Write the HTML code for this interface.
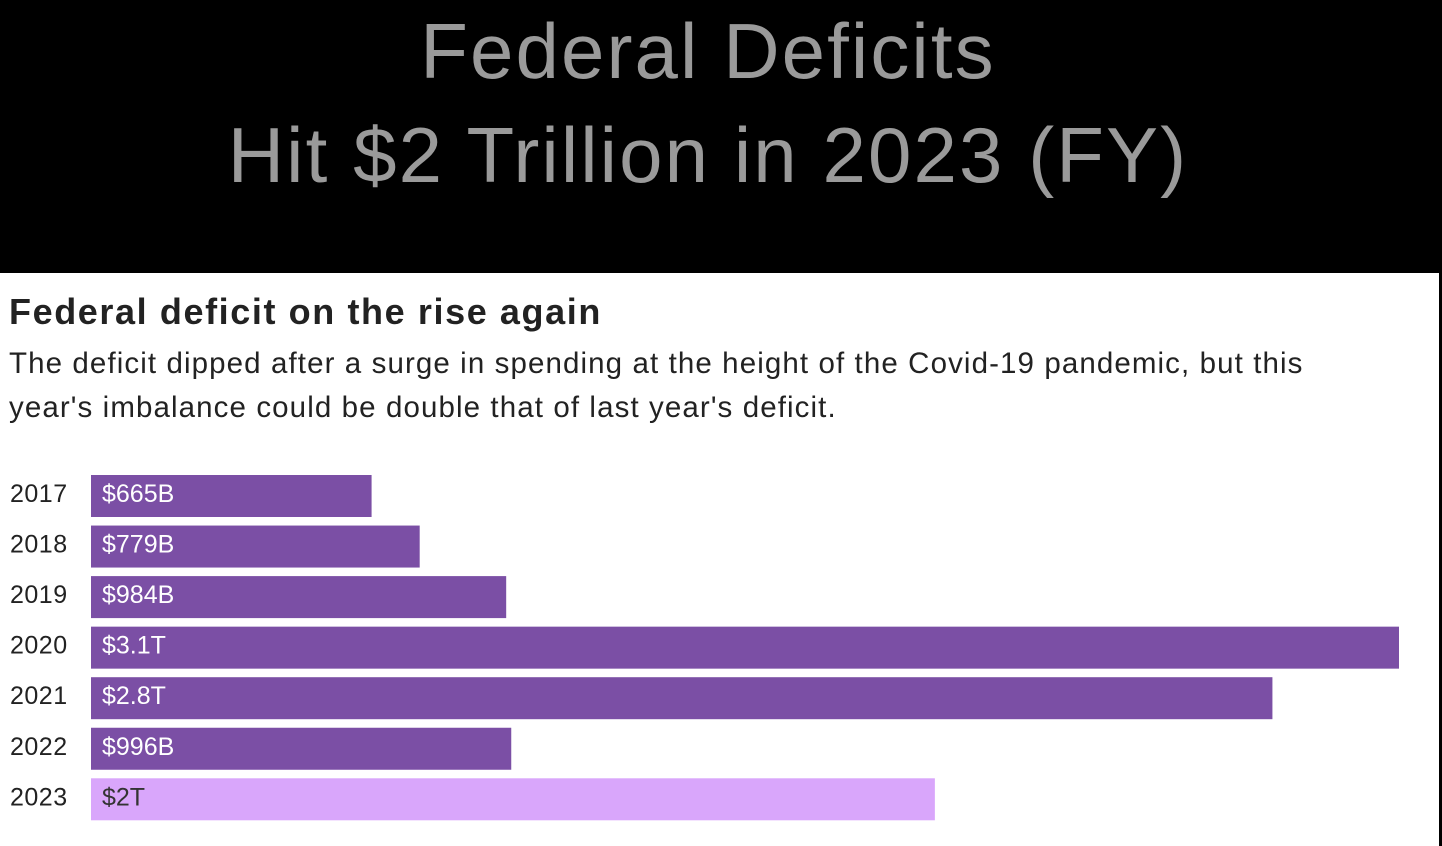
<!DOCTYPE html>
<html><head><meta charset="utf-8">
<style>
body{margin:0;width:1442px;height:846px;background:#000;position:relative;overflow:hidden;font-family:"Liberation Sans",sans-serif}
#hdr{position:absolute;left:0;top:0;width:1442px;height:273px;background:#000}
.t{position:absolute;left:0;width:1416px;text-align:center;color:#9a9a9a;font-size:78px;letter-spacing:2.1px;white-space:nowrap}
#panel{position:absolute;left:0;top:273px;width:1439px;height:573px;background:#fff}
#sub{position:absolute;left:9px;top:291px;font-size:36px;font-weight:bold;color:#222;letter-spacing:1.6px;white-space:nowrap}
#desc{position:absolute;left:9px;top:342px;width:1400px;font-size:29.5px;line-height:44px;color:#222;letter-spacing:1.1px;white-space:nowrap}
svg{position:absolute;left:0;top:0}
</style></head><body>
<div id="hdr">
<div class="t" style="top:6px">Federal Deficits</div>
<div class="t" style="top:110px">Hit $2 Trillion in 2023 (FY)</div>
</div>
<div id="panel"></div>
<div id="sub">Federal deficit on the rise again</div>
<div id="desc">The deficit dipped after a surge in spending at the height of the Covid-19 pandemic, but this<br>year's imbalance could be double that of last year's deficit.</div>
<svg id="chart" width="1442" height="846"></svg>
<script>
const years=["2017","2018","2019","2020","2021","2022","2023"];
const values=[0.665,0.779,0.984,3.1,2.8,0.996,2.0];
const labels=["$665B","$779B","$984B","$3.1T","$2.8T","$996B","$2T"];
const projected=[false,false,false,false,false,false,true];
const NS="http://www.w3.org/2000/svg";
const svg=document.getElementById('chart');
const x0=91,x1=1399,maxV=3.1;
const xs=v=>x0+(x1-x0)*v/maxV;
const yTop=475,pitch=50.55,bh=42;
const ys=i=>yTop+i*pitch;
years.forEach((y,i)=>{
 const r=document.createElementNS(NS,'rect');
 r.setAttribute('x',x0);r.setAttribute('y',ys(i));
 r.setAttribute('width',xs(values[i])-x0);r.setAttribute('height',bh);
 r.setAttribute('fill',projected[i]?'#d9a6fb':'#7b4fa5');
 
 
 svg.appendChild(r);
 const yl=document.createElementNS(NS,'text');
 yl.setAttribute('x',10);yl.setAttribute('y',ys(i)+27);
 yl.setAttribute('font-size','25');yl.setAttribute('fill','#222');
 yl.setAttribute('font-family','Liberation Sans, sans-serif');
 yl.setAttribute('letter-spacing','0.5');
 yl.textContent=y;
 
 
 svg.appendChild(yl);
 const vl=document.createElementNS(NS,'text');
 vl.setAttribute('x',102);vl.setAttribute('y',ys(i)+27);
 vl.setAttribute('font-size','25');vl.setAttribute('fill',projected[i]?'#333':'#fff');
 vl.setAttribute('font-family','Liberation Sans, sans-serif');
 vl.setAttribute('letter-spacing','0');
 vl.textContent=labels[i];
 
 
 svg.appendChild(vl);
});
</script>
</body></html>
